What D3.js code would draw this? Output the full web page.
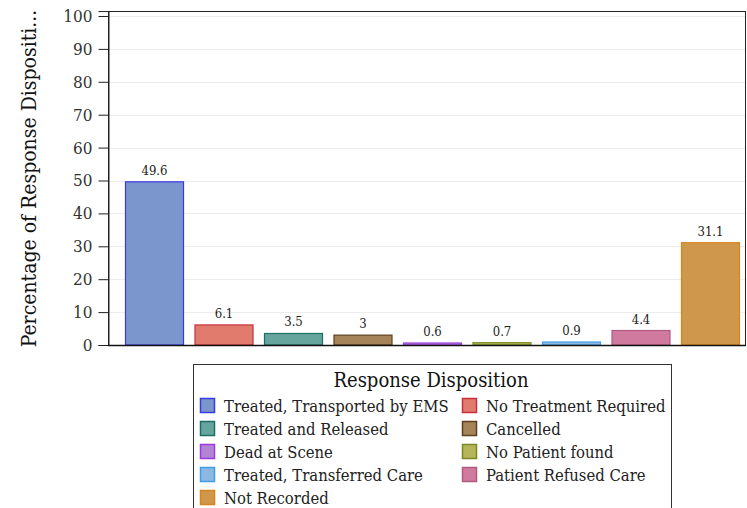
<!DOCTYPE html>
<html><head><meta charset="utf-8">
<script src="https://cdn.jsdelivr.net/npm/d3@7"></script>
<style>body{margin:0;background:#fff;} svg{display:block;}</style>
</head><body>
<svg id="c" width="747" height="508"></svg>
<script>
const categories = ["Treated, Transported by EMS","No Treatment Required","Treated and Released","Cancelled","Dead at Scene","No Patient found","Treated, Transferred Care","Patient Refused Care","Not Recorded"];
const values = [49.6, 6.1, 3.5, 3, 0.6, 0.7, 0.9, 4.4, 31.1];
const valueLabels = ["49.6","6.1","3.5","3","0.6","0.7","0.9","4.4","31.1"];
const fills = ["#7b96cc","#e07b6e","#66a59e","#a6845a","#b384d4","#b5b55a","#8db8e2","#cf7a9e","#cf974c"];
const strokes = ["#3a3ae0","#c8303c","#1e6e66","#5e3f1e","#9a3ae0","#7a8a20","#3c9ee8","#b05a80","#d8851a"];
const yTicks = [0,10,20,30,40,50,60,70,80,90,100];
const yTitle = "Percentage of Response Dispositi...";
const legendTitle = "Response Disposition";

const svg = d3.select("#c");
const FONT = "'DejaVu Serif Condensed', 'DejaVu Serif', serif";
const L = 108, R = 746, T = 11, B = 345;

const y = d3.scaleLinear().domain([0, 101.5]).range([B, B - (B-16)*101.5/100]);
const x = d3.scaleBand().domain(categories).range([119.75, 745.25]).paddingInner(0.151).paddingOuter(0.0755);

// gridlines
svg.append("g").selectAll("line").data(yTicks.filter(d=>d>0)).join("line")
  .attr("x1", L).attr("x2", R).attr("y1", d=>Math.round(y(d))+0.5).attr("y2", d=>Math.round(y(d))+0.5)
  .attr("stroke", "#ededed").attr("stroke-width", 1);

// bars
svg.append("g").selectAll("rect").data(values).join("rect")
  .attr("x", (d,i)=>x(categories[i])+0.5)
  .attr("y", d=>y(d))
  .attr("width", x.bandwidth()-1)
  .attr("height", d=>B - y(d))
  .attr("fill", (d,i)=>fills[i])
  .attr("stroke", (d,i)=>strokes[i])
  .attr("stroke-width", 1.2);

// value labels
svg.append("g").selectAll("text").data(values).join("text")
  .attr("x", (d,i)=>x(categories[i]) + x.bandwidth()/2)
  .attr("y", d=>y(d) - 7)
  .attr("text-anchor", "middle")
  .attr("font-family", FONT).attr("font-size", 13).attr("fill", "#222")
  .text((d,i)=>valueLabels[i]);

// frame
svg.append("rect").attr("x", L+0.5).attr("y", T+0.5).attr("width", R-L-1).attr("height", B-T)
  .attr("fill", "none").attr("stroke", "#222").attr("stroke-width", 1);

// y axis
const yAxis = svg.append("g").attr("transform", `translate(${L+0.5},0)`)
  .call(d3.axisLeft(y).tickValues(yTicks).tickSize(10).tickFormat(d3.format("d")));
yAxis.select(".domain").attr("stroke", "#222");
yAxis.selectAll(".tick line").attr("stroke", "#222");
yAxis.selectAll(".tick text").attr("font-family", FONT).attr("font-size", 17).attr("fill", "#333").attr("x", -16);

// x axis baseline
svg.append("line").attr("x1", L).attr("x2", R).attr("y1", B+0.5).attr("y2", B+0.5).attr("stroke", "#111").attr("stroke-width", 1.5);

// y title
svg.append("text").attr("transform", `translate(36,${(10+347)/2}) rotate(-90)`)
  .attr("text-anchor", "middle").attr("font-family", FONT).attr("font-size", 21).attr("fill", "#111")
  .text(yTitle);

// legend
const lg = svg.append("g");
lg.append("rect").attr("x", 193.5).attr("y", 364.5).attr("width", 478).attr("height", 160)
  .attr("fill", "#fff").attr("stroke", "#333");
lg.append("text").attr("x", 431).attr("y", 387).attr("text-anchor", "middle")
  .attr("font-family", FONT).attr("font-size", 20).attr("fill", "#111").text(legendTitle);
const items = lg.selectAll("g.it").data(categories).join("g").attr("class","it")
  .attr("transform", (d,i)=>`translate(${i%2===0?200:462},${398 + Math.floor(i/2)*23})`);
items.append("rect").attr("x", 0.5).attr("y", 0.5).attr("width", 14).attr("height", 14)
  .attr("fill", (d,i)=>fills[i]).attr("stroke", (d,i)=>strokes[i]).attr("stroke-width", 1.5);
items.append("text").attr("x", 24).attr("y", 13.5)
  .attr("font-family", FONT).attr("font-size", 16.5).attr("fill", "#222").text(d=>d);
</script>
</body></html>
